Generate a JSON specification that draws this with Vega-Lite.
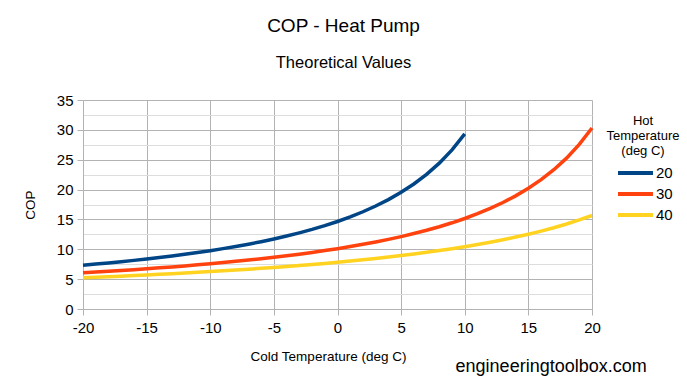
{
  "$schema": "https://vega.github.io/schema/vega-lite/v6.json",
  "width": 509,
  "height": 209,
  "autosize": {"type": "none"},
  "padding": {"left": 83, "top": 100, "right": 95, "bottom": 77},
  "background": "white",
  "config": {
    "font": "Liberation Sans",
    "view": {"stroke": null},
    "axis": {
      "labelFont": "Liberation Sans",
      "titleFont": "Liberation Sans",
      "labelColor": "#000000",
      "titleColor": "#000000",
      "titleFontWeight": "normal",
      "domainColor": "#b3b3b3",
      "tickColor": "#b3b3b3",
      "gridColor": "#b3b3b3",
      "gridOpacity": 1,
      "tickSize": 6
    }
  },
  "title": {
    "text": "COP - Heat Pump",
    "subtitle": "Theoretical Values",
    "font": "Liberation Sans",
    "fontSize": 19,
    "fontWeight": "normal",
    "color": "#000000",
    "subtitleFont": "Liberation Sans",
    "subtitleFontSize": 16.5,
    "subtitleColor": "#000000",
    "subtitlePadding": 19,
    "anchor": "middle",
    "dx": 6,
    "offset": 22
  },
  "datasets": {
    "cop": [
      {"cold": -20, "hot": "20", "cop": 7.329}, {"cold": -19, "hot": "20", "cop": 7.517}, {"cold": -18, "hot": "20", "cop": 7.714}, {"cold": -17, "hot": "20", "cop": 7.923}, {"cold": -16, "hot": "20", "cop": 8.143}, {"cold": -15, "hot": "20", "cop": 8.376}, {"cold": -14, "hot": "20", "cop": 8.622}, {"cold": -13, "hot": "20", "cop": 8.883}, {"cold": -12, "hot": "20", "cop": 9.161}, {"cold": -11, "hot": "20", "cop": 9.456}, {"cold": -10, "hot": "20", "cop": 9.772}, {"cold": -9, "hot": "20", "cop": 10.109}, {"cold": -8, "hot": "20", "cop": 10.470}, {"cold": -7, "hot": "20", "cop": 10.857}, {"cold": -6, "hot": "20", "cop": 11.275}, {"cold": -5, "hot": "20", "cop": 11.726}, {"cold": -4, "hot": "20", "cop": 12.215}, {"cold": -3, "hot": "20", "cop": 12.746}, {"cold": -2, "hot": "20", "cop": 13.325}, {"cold": -1, "hot": "20", "cop": 13.960}, {"cold": 0, "hot": "20", "cop": 14.658}, {"cold": 1, "hot": "20", "cop": 15.429}, {"cold": 2, "hot": "20", "cop": 16.286}, {"cold": 3, "hot": "20", "cop": 17.244}, {"cold": 4, "hot": "20", "cop": 18.322}, {"cold": 5, "hot": "20", "cop": 19.543}, {"cold": 6, "hot": "20", "cop": 20.939}, {"cold": 7, "hot": "20", "cop": 22.550}, {"cold": 8, "hot": "20", "cop": 24.429}, {"cold": 9, "hot": "20", "cop": 26.650}, {"cold": 10, "hot": "20", "cop": 29.315},
      {"cold": -20, "hot": "30", "cop": 6.063}, {"cold": -19, "hot": "30", "cop": 6.187}, {"cold": -18, "hot": "30", "cop": 6.316}, {"cold": -17, "hot": "30", "cop": 6.450}, {"cold": -16, "hot": "30", "cop": 6.590}, {"cold": -15, "hot": "30", "cop": 6.737}, {"cold": -14, "hot": "30", "cop": 6.890}, {"cold": -13, "hot": "30", "cop": 7.050}, {"cold": -12, "hot": "30", "cop": 7.218}, {"cold": -11, "hot": "30", "cop": 7.394}, {"cold": -10, "hot": "30", "cop": 7.579}, {"cold": -9, "hot": "30", "cop": 7.773}, {"cold": -8, "hot": "30", "cop": 7.978}, {"cold": -7, "hot": "30", "cop": 8.193}, {"cold": -6, "hot": "30", "cop": 8.421}, {"cold": -5, "hot": "30", "cop": 8.661}, {"cold": -4, "hot": "30", "cop": 8.916}, {"cold": -3, "hot": "30", "cop": 9.186}, {"cold": -2, "hot": "30", "cop": 9.473}, {"cold": -1, "hot": "30", "cop": 9.779}, {"cold": 0, "hot": "30", "cop": 10.105}, {"cold": 1, "hot": "30", "cop": 10.453}, {"cold": 2, "hot": "30", "cop": 10.827}, {"cold": 3, "hot": "30", "cop": 11.228}, {"cold": 4, "hot": "30", "cop": 11.660}, {"cold": 5, "hot": "30", "cop": 12.126}, {"cold": 6, "hot": "30", "cop": 12.631}, {"cold": 7, "hot": "30", "cop": 13.180}, {"cold": 8, "hot": "30", "cop": 13.780}, {"cold": 9, "hot": "30", "cop": 14.436}, {"cold": 10, "hot": "30", "cop": 15.158}, {"cold": 11, "hot": "30", "cop": 15.955}, {"cold": 12, "hot": "30", "cop": 16.842}, {"cold": 13, "hot": "30", "cop": 17.832}, {"cold": 14, "hot": "30", "cop": 18.947}, {"cold": 15, "hot": "30", "cop": 20.210}, {"cold": 16, "hot": "30", "cop": 21.654}, {"cold": 17, "hot": "30", "cop": 23.319}, {"cold": 18, "hot": "30", "cop": 25.263}, {"cold": 19, "hot": "30", "cop": 27.559}, {"cold": 20, "hot": "30", "cop": 30.315},
      {"cold": -20, "hot": "40", "cop": 5.219}, {"cold": -19, "hot": "40", "cop": 5.308}, {"cold": -18, "hot": "40", "cop": 5.399}, {"cold": -17, "hot": "40", "cop": 5.494}, {"cold": -16, "hot": "40", "cop": 5.592}, {"cold": -15, "hot": "40", "cop": 5.694}, {"cold": -14, "hot": "40", "cop": 5.799}, {"cold": -13, "hot": "40", "cop": 5.908}, {"cold": -12, "hot": "40", "cop": 6.022}, {"cold": -11, "hot": "40", "cop": 6.140}, {"cold": -10, "hot": "40", "cop": 6.263}, {"cold": -9, "hot": "40", "cop": 6.391}, {"cold": -8, "hot": "40", "cop": 6.524}, {"cold": -7, "hot": "40", "cop": 6.663}, {"cold": -6, "hot": "40", "cop": 6.808}, {"cold": -5, "hot": "40", "cop": 6.959}, {"cold": -4, "hot": "40", "cop": 7.117}, {"cold": -3, "hot": "40", "cop": 7.283}, {"cold": -2, "hot": "40", "cop": 7.456}, {"cold": -1, "hot": "40", "cop": 7.638}, {"cold": 0, "hot": "40", "cop": 7.829}, {"cold": 1, "hot": "40", "cop": 8.029}, {"cold": 2, "hot": "40", "cop": 8.241}, {"cold": 3, "hot": "40", "cop": 8.464}, {"cold": 4, "hot": "40", "cop": 8.699}, {"cold": 5, "hot": "40", "cop": 8.947}, {"cold": 6, "hot": "40", "cop": 9.210}, {"cold": 7, "hot": "40", "cop": 9.489}, {"cold": 8, "hot": "40", "cop": 9.786}, {"cold": 9, "hot": "40", "cop": 10.102}, {"cold": 10, "hot": "40", "cop": 10.438}, {"cold": 11, "hot": "40", "cop": 10.798}, {"cold": 12, "hot": "40", "cop": 11.184}, {"cold": 13, "hot": "40", "cop": 11.598}, {"cold": 14, "hot": "40", "cop": 12.044}, {"cold": 15, "hot": "40", "cop": 12.526}, {"cold": 16, "hot": "40", "cop": 13.048}, {"cold": 17, "hot": "40", "cop": 13.615}, {"cold": 18, "hot": "40", "cop": 14.234}, {"cold": 19, "hot": "40", "cop": 14.912}, {"cold": 20, "hot": "40", "cop": 15.658}
    ],
    "credit": [{"label": "engineeringtoolbox.com"}]
  },
  "layer": [
    {
      "data": {"name": "cop"},
      "mark": {"type": "line", "strokeWidth": 3.5, "strokeCap": "butt"},
      "encoding": {
        "x": {
          "field": "cold",
          "type": "quantitative",
          "scale": {"domain": [-20, 20], "nice": false, "zero": false},
          "axis": {
            "values": [-20, -15, -10, -5, 0, 5, 10, 15, 20],
            "tickCount": 20,
            "labelExpr": "'' + datum.value",
            "title": "Cold Temperature (deg C)",
            "titleFontSize": 13.5,
            "titlePadding": 14,
            "titleX": 245,
            "titleAnchor": "middle",
            "labelFontSize": 15,
            "labelPadding": 5,
            "labelFlush": false,
            "labelOverlap": false
          }
        },
        "y": {
          "field": "cop",
          "type": "quantitative",
          "scale": {"domain": [0, 35], "nice": false},
          "axis": {
            "values": [0, 2.5, 5, 7.5, 10, 12.5, 15, 17.5, 20, 22.5, 25, 27.5, 30, 32.5, 35],
            "tickCount": 20,
            "labelExpr": "datum.value % 5 === 0 ? '' + datum.value : ''",
            "labelOverlap": false,
            "gridColor": {"condition": {"test": "datum.value % 5 !== 0", "value": "#dddddd"}, "value": "#b3b3b3"},
            "tickOpacity": {"condition": {"test": "datum.value % 5 !== 0", "value": 0}, "value": 1},
            "title": "COP",
            "titleFontSize": 13.5,
            "titlePadding": 19,
            "labelFontSize": 15,
            "labelPadding": 4,
            "labelFlush": false
          }
        },
        "color": {
          "field": "hot",
          "type": "nominal",
          "scale": {"domain": ["20", "30", "40"], "range": ["#004586", "#ff420e", "#ffd320"]},
          "legend": {
            "title": ["Hot", "Temperature", "(deg C)"],
            "orient": "none",
            "legendX": 524,
            "legendY": 15,
            "titleFontSize": 13,
            "titleFontWeight": "normal",
            "titleColor": "#000000",
            "titleAlign": "center",
            "titleAnchor": "middle",
            "titleLineHeight": 15,
            "titlePadding": 4,
            "labelFontSize": 15,
            "labelColor": "#000000",
            "labelOffset": 21,
            "symbolType": "M-0.686,0L3.314,0",
            "symbolSize": 306,
            "symbolStrokeWidth": 4,
            "symbolFillColor": "transparent",
            "rowPadding": 2
          }
        }
      }
    },
    {
      "data": {"name": "credit"},
      "mark": {"type": "text", "align": "right", "baseline": "alphabetic", "fontSize": 18, "font": "Liberation Sans", "color": "#000000"},
      "encoding": {
        "x": {"datum": 24.3, "type": "quantitative"},
        "y": {"datum": -10.55, "type": "quantitative"},
        "text": {"field": "label"}
      }
    }
  ]
}
